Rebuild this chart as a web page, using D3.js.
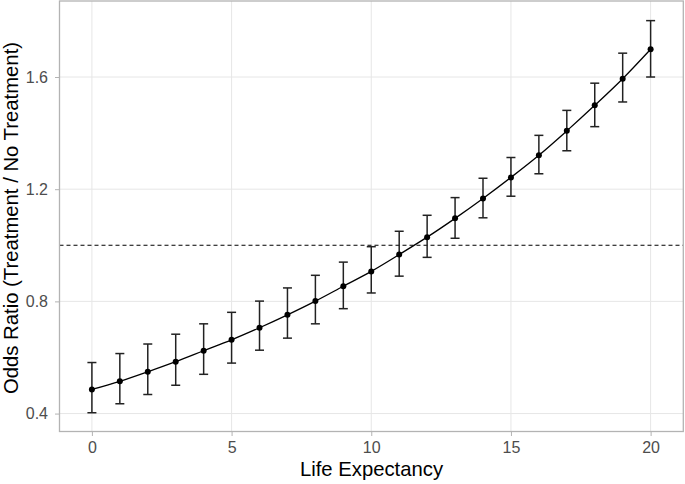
<!DOCTYPE html>
<html><head><meta charset="utf-8">
<script src="https://cdn.jsdelivr.net/npm/d3@7"></script>
<style>body{margin:0;background:#fff}svg{display:block}</style>
</head><body>
<svg id="c" width="685" height="484"></svg>
<script>
const lifeExpectancy = [0,1,2,3,4,5,6,7,8,9,10,11,12,13,14,15,16,17,18,19,20];
const oddsRatio = [0.486,0.515,0.549,0.585,0.624,0.663,0.706,0.752,0.801,0.854,0.907,0.967,1.029,1.096,1.167,1.242,1.321,1.408,1.499,1.594,1.699];
const lowerCI = [0.403,0.435,0.468,0.501,0.540,0.580,0.626,0.669,0.720,0.774,0.830,0.890,0.957,1.025,1.098,1.175,1.255,1.337,1.423,1.511,1.600];
const upperCI = [0.582,0.614,0.648,0.683,0.720,0.761,0.801,0.848,0.893,0.940,0.995,1.050,1.107,1.170,1.239,1.313,1.392,1.481,1.578,1.685,1.801];
const xTicks = [0,5,10,15,20];
const yTicks = [0.4,0.8,1.2,1.6];
const refLine = 1;

const data = lifeExpectancy.map((x,i)=>({x, y:oddsRatio[i], lo:lowerCI[i], hi:upperCI[i]}));
const svg = d3.select("#c");
const L=59.5, R=683.3, T=1, B=431.5;
const x = d3.scaleLinear().domain([-1.16,21.17]).range([L,R]);
const y = d3.scaleLinear().domain([0.3361,1.871]).range([B,T]);
const font = "'Liberation Sans', Arial, sans-serif";

// grid
const g = svg.append("g");
g.selectAll(".gx").data(xTicks).join("line")
  .attr("x1",d=>x(d)).attr("x2",d=>x(d)).attr("y1",T).attr("y2",B)
  .attr("stroke","#e6e6e6").attr("stroke-width",1);
g.selectAll(".gy").data(yTicks).join("line")
  .attr("y1",d=>y(d)).attr("y2",d=>y(d)).attr("x1",L).attr("x2",R)
  .attr("stroke","#e6e6e6").attr("stroke-width",1);

// axes
const xAxis = d3.axisBottom(x).tickValues(xTicks).tickSize(4.5).tickPadding(6).tickFormat(d3.format("d"));
const yAxis = d3.axisLeft(y).tickValues(yTicks).tickSize(4.5).tickPadding(7).tickFormat(d3.format(".1f"));
const ax = svg.append("g").attr("transform",`translate(0,${B})`).call(xAxis);
const ay = svg.append("g").attr("transform",`translate(${L},0)`).call(yAxis);
[ax,ay].forEach(a=>{
  a.select(".domain").remove();
  a.selectAll(".tick line").attr("stroke","#b3b3b3");
  a.selectAll(".tick text").attr("fill","#4d4d4d").style("font-family",font).style("font-size","16px");
});

// reference line
svg.append("line").attr("x1",L).attr("x2",R).attr("y1",y(refLine)).attr("y2",y(refLine))
  .attr("stroke","#000").attr("stroke-width",1.1).attr("stroke-dasharray","4,3");

// error bars
const eb = svg.append("g").attr("stroke","#222").attr("stroke-width",1.5);
eb.selectAll(".v").data(data).join("line")
  .attr("x1",d=>x(d.x)).attr("x2",d=>x(d.x)).attr("y1",d=>y(d.lo)).attr("y2",d=>y(d.hi));
eb.selectAll(".t").data(data).join("line")
  .attr("x1",d=>x(d.x)-4.5).attr("x2",d=>x(d.x)+4.5).attr("y1",d=>y(d.hi)).attr("y2",d=>y(d.hi));
eb.selectAll(".b").data(data).join("line")
  .attr("x1",d=>x(d.x)-4.5).attr("x2",d=>x(d.x)+4.5).attr("y1",d=>y(d.lo)).attr("y2",d=>y(d.lo));

// line
svg.append("path").datum(data)
  .attr("d",d3.line().x(d=>x(d.x)).y(d=>y(d.y)).curve(d3.curveMonotoneX))
  .attr("fill","none").attr("stroke","#000").attr("stroke-width",1.3);

// points
svg.selectAll(".pt").data(data).join("circle")
  .attr("cx",d=>x(d.x)).attr("cy",d=>y(d.y)).attr("r",3).attr("fill","#000");

// border
svg.append("rect").attr("x",L).attr("y",T).attr("width",R-L).attr("height",B-T)
  .attr("fill","none").attr("stroke","#b3b3b3").attr("stroke-width",1.3);

// titles
svg.append("text").attr("x",371.5).attr("y",476).attr("text-anchor","middle")
  .style("font-family",font).style("font-size","20.3px").attr("fill","#000").text("Life Expectancy");
svg.append("text").attr("transform",`translate(18,218) rotate(-90)`).attr("text-anchor","middle")
  .style("font-family",font).style("font-size","20.3px").attr("fill","#000").text("Odds Ratio (Treatment / No Treatment)");
</script>
</body></html>
